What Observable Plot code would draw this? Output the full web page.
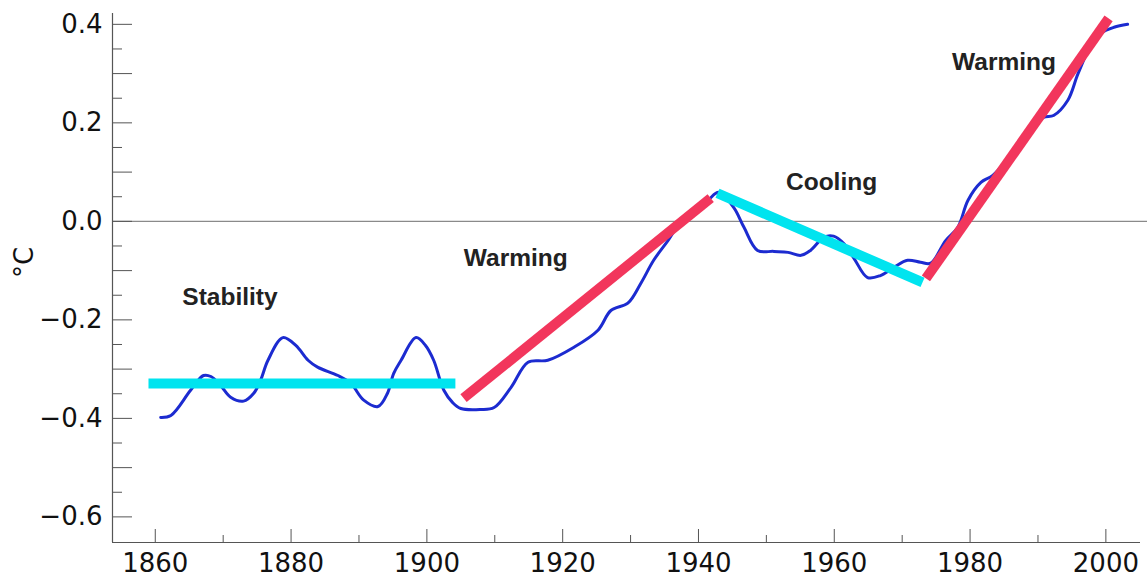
<!DOCTYPE html>
<html><head><meta charset="utf-8">
<script src="https://cdn.jsdelivr.net/npm/d3@7"></script>
<script src="https://cdn.jsdelivr.net/npm/@observablehq/plot@0.6"></script>
<style>body{margin:0;background:#fff;overflow:hidden}</style>
</head><body><div id="chart"></div>
<script>
// Smoothed temperature anomaly (°C)
const years = [1860.8,1862.3,1865.2,1867.1,1868.2,1869.6,1871.1,1873.0,1874.5,1875.5,1876.6,1878.8,1880.7,1882.5,1883.9,1886.9,1888.8,1890.7,1892.8,1894.2,1895.1,1896.2,1898.4,1899.8,1901.0,1902.5,1903.8,1905.0,1907.9,1909.9,1912.4,1914.9,1917.8,1921.6,1925.2,1927.1,1929.6,1931.5,1933.4,1935.5,1937.8,1939.9,1941.4,1943.0,1945.2,1946.7,1948.7,1951.1,1953.2,1955.1,1956.5,1958.5,1959.9,1961.4,1962.9,1964.9,1966.8,1968.8,1970.8,1972.7,1974.2,1976.4,1978.2,1979.7,1981.6,1983.3,1986.7,1988.9,1990.8,1992.3,1994.4,1995.9,1997.8,1999.3,2001.2,2003.2];
const anomalies = [-0.398,-0.394,-0.343,-0.313,-0.315,-0.333,-0.357,-0.365,-0.349,-0.323,-0.282,-0.236,-0.252,-0.282,-0.296,-0.313,-0.329,-0.363,-0.376,-0.349,-0.309,-0.282,-0.236,-0.252,-0.282,-0.343,-0.368,-0.380,-0.382,-0.378,-0.337,-0.286,-0.282,-0.256,-0.221,-0.181,-0.166,-0.126,-0.079,-0.039,0.008,0.028,0.043,0.059,0.028,-0.012,-0.059,-0.061,-0.063,-0.069,-0.059,-0.032,-0.030,-0.045,-0.075,-0.114,-0.110,-0.093,-0.079,-0.083,-0.085,-0.039,-0.012,0.043,0.079,0.093,0.144,0.181,0.211,0.215,0.246,0.300,0.357,0.382,0.394,0.400];

// Trend segments
const segStartYear = [1859.0, 1905.4, 1942.8, 1973.5];
const segStartValue = [-0.329, -0.359, 0.057, -0.116];
const segEndYear = [1904.2, 1941.8, 1973.0, 2000.4];
const segEndValue = [-0.329, 0.047, -0.124, 0.412];
const segKind = ["stability", "warming", "cooling", "warming"];

// Annotations
const labelText = ["Stability", "Warming", "Cooling", "Warming"];
const labelYear = [1871.0, 1913.1, 1959.6, 1985.0];
const labelValue = [-0.154, -0.075, 0.079, 0.323];

// Ticks
const xTickLabels = [1860, 1880, 1900, 1920, 1940, 1960, 1980, 2000];
const xMinorTicks = [1870, 1890, 1910, 1930, 1950, 1970, 1990];
const yTickLabels = [-0.6, -0.4, -0.2, 0.0, 0.2, 0.4];
const yMediumTicks = [-0.6, -0.5, -0.4, -0.3, -0.2, -0.1, 0.0, 0.1, 0.2, 0.3, 0.4];
const yMinorTicks = [-0.55, -0.45, -0.35, -0.25, -0.15, -0.05, 0.05, 0.15, 0.25, 0.35];
const yAxisTitle = "°C";

const xDomain = [1853.7, 2005.1];
const yDomain = [-0.652, 0.422];
const kindColor = {stability: "#00e4ef", cooling: "#00e4ef", warming: "#f2365c"};

const series = years.map((year, i) => ({year, value: anomalies[i]}));
const segments = segKind.map((kind, i) => ({
  kind, x1: segStartYear[i], y1: segStartValue[i], x2: segEndYear[i], y2: segEndValue[i]
}));
const labels = labelText.map((text, i) => ({text, year: labelYear[i], value: labelValue[i]}));

const axisColor = "#555";
const chart = Plot.plot({
  width: 1147, height: 583,
  marginLeft: 112, marginRight: 7, marginTop: 13, marginBottom: 41,
  x: {domain: xDomain, axis: null},
  y: {domain: yDomain, axis: null},
  style: {fontFamily: "DejaVu Sans", fontSize: "26px", color: "#111", background: "#fff"},
  marks: [
    Plot.ruleY([0], {stroke: "#8a8a8a", strokeWidth: 1.2, insetRight: -7}),
    Plot.ruleX([xDomain[0]], {y1: yDomain[0], y2: yDomain[1], stroke: axisColor, strokeWidth: 1.2}),
    Plot.ruleY([yDomain[0]], {x1: xDomain[0], x2: xDomain[1], stroke: axisColor, strokeWidth: 1.2}),
    Plot.ruleY(yMediumTicks, {y: d => d, x1: xDomain[0], x2: xDomain[0], insetRight: -20, stroke: axisColor}),
    Plot.ruleY(yMinorTicks, {y: d => d, x1: xDomain[0], x2: xDomain[0], insetRight: -10, stroke: axisColor}),
    Plot.ruleX(xTickLabels, {x: d => d, y1: yDomain[0], y2: yDomain[0], insetBottom: 13, stroke: axisColor}),
    Plot.ruleX(xMinorTicks, {x: d => d, y1: yDomain[0], y2: yDomain[0], insetBottom: 7, stroke: axisColor}),
    Plot.axisY(yTickLabels, {tickSize: 0, tickPadding: 10, tickFormat: d3.format(".1f"), label: null, fill: "#111"}),
    Plot.axisX(xTickLabels, {tickSize: 0, tickPadding: 11, tickFormat: d => String(d), label: null, fill: "#111"}),
    Plot.text([yAxisTitle], {frameAnchor: "left", dx: -88, rotate: -90, fontSize: 26, fill: "#111"}),
    Plot.line(series, {x: "year", y: "value", stroke: "#1c2bd0", strokeWidth: 3, curve: "catmull-rom"}),
    Plot.link(segments, {x1: "x1", y1: "y1", x2: "x2", y2: "y2", stroke: d => kindColor[d.kind], strokeWidth: 10, strokeLinecap: "butt"}),
    Plot.text(labels, {x: "year", y: "value", text: "text", fontFamily: "Liberation Sans", fontWeight: "bold", fontSize: 24.5, fill: "#222"})
  ]
});
document.getElementById("chart").appendChild(chart);
</script>
</body></html>
